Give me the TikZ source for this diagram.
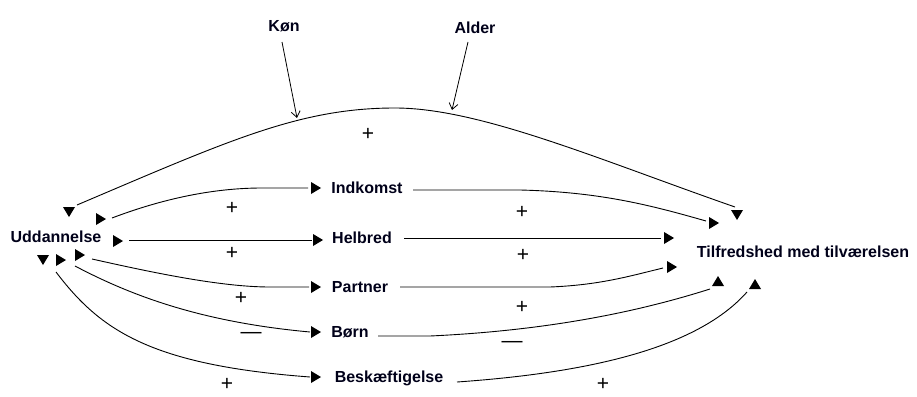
\documentclass[tikz,border=0pt]{standalone}
\usepackage{fontspec}
\setmainfont{Liberation Sans}
\usetikzlibrary{arrows.meta}
\tikzset{
  lbl/.style={font=\bfseries\fontsize{16}{18}\selectfont, inner sep=0pt, text=black!90!blue},
  sgn/.style={font=\fontsize{21}{22}\selectfont, inner sep=0pt},
  con/.style={line width=0.9pt},
  inf/.style={line width=0.8pt, -{Straight Barb[length=6pt,width=9pt]}},
  rtri/.pic={\fill (-5,-6) -- (5,0) -- (-5,6) -- cycle;},
  dtri/.pic={\fill (-6,-5) -- (6,-5) -- (0,5) -- cycle;},
  utri/.pic={\fill (-6,5) -- (6,5) -- (0,-5) -- cycle;},
}
\begin{document}
\begin{tikzpicture}[x=1pt,y=-1pt]
\useasboundingbox (0,0) rectangle (917,396);
% labels
\node[lbl] (kon) at (284,26) {Køn};
\node[lbl] (alder) at (475,28) {Alder};
\node[lbl] (udd) at (56,237) {Uddannelse};
\node[lbl] (ind) at (367,188) {Indkomst};
\node[lbl] (hel) at (362,238) {Helbred};
\node[lbl] (par) at (360,287) {Partner};
\node[lbl] (born) at (350,332) {Børn};
\node[lbl] (besk) at (389,378) {Beskæftigelse};
\node[lbl] (tilf) at (803,252) {Tilfredshed med tilværelsen};
% connector endpoints
\coordinate (topA) at (77,205);
\coordinate (topB) at (735,207);
\coordinate (konT) at (297,118);
\coordinate (alderT) at (452,110);
\coordinate (konS) at (282,42);
\coordinate (alderS) at (468,42);
% top curve
\draw[con] (topA) .. controls (230,140) and (300,108) .. (395,108)
  .. controls (480,108) and (600,160) .. (topB);
\draw[inf] (konS) -- (konT);
\draw[inf] (alderS) -- (alderT);
% Uddannelse -> middle
\draw[con] (112,218) .. controls (170,196) and (220,188) .. (262,188) -- (308,188);
\draw[con] (129,240) -- (312,240);
\draw[con] (92,259) .. controls (150,272) and (220,287) .. (270,287) -- (309,287);
\draw[con] (75,266) .. controls (130,295) and (200,322) .. (310,332);
\draw[con] (56,272) .. controls (100,330) and (150,365) .. (310,377);
% middle -> Tilfredshed
\draw[con] (413,190) -- (520,190) .. controls (600,192) and (650,205) .. (706,221);
\draw[con] (404,238) -- (661,238);
\draw[con] (400,287) -- (550,287) .. controls (600,285) and (630,276) .. (663,268);
\draw[con] (378,336) -- (430,336) .. controls (560,330) and (650,308) .. (710,289);
\draw[con] (457,382) .. controls (600,372) and (700,345) .. (747,292);
% triangles
\pic at (69,212) {dtri};
\pic at (43,260) {dtri};
\pic at (101,219) {rtri};
\pic at (118,241) {rtri};
\pic at (80,255) {rtri};
\pic at (61,260) {rtri};
\pic at (316,188) {rtri};
\pic at (318,240) {rtri};
\pic at (316,287) {rtri};
\pic at (316,332) {rtri};
\pic at (316,377) {rtri};
\pic at (737,215) {dtri};
\pic at (714,223) {rtri};
\pic at (669,238) {rtri};
\pic at (672,267) {rtri};
\pic at (718,281) {utri};
\pic at (755,284) {utri};
% signs
\node[sgn] (s1) at (368,134) {+};
\node[sgn] (s2) at (232,208) {+};
\node[sgn] (s3) at (522,212) {+};
\node[sgn] (s4) at (232,253) {+};
\node[sgn] (s5) at (523,255) {+};
\node[sgn] (s6) at (241,298) {+};
\node[sgn] (s7) at (522,307) {+};
\node[sgn] (s8) at (227,384) {+};
\node[sgn] (s9) at (603,384) {+};
\node[sgn] (m1) at (251,335) {—};
\node[sgn] (m2) at (512,344) {—};
\end{tikzpicture}
\end{document}
